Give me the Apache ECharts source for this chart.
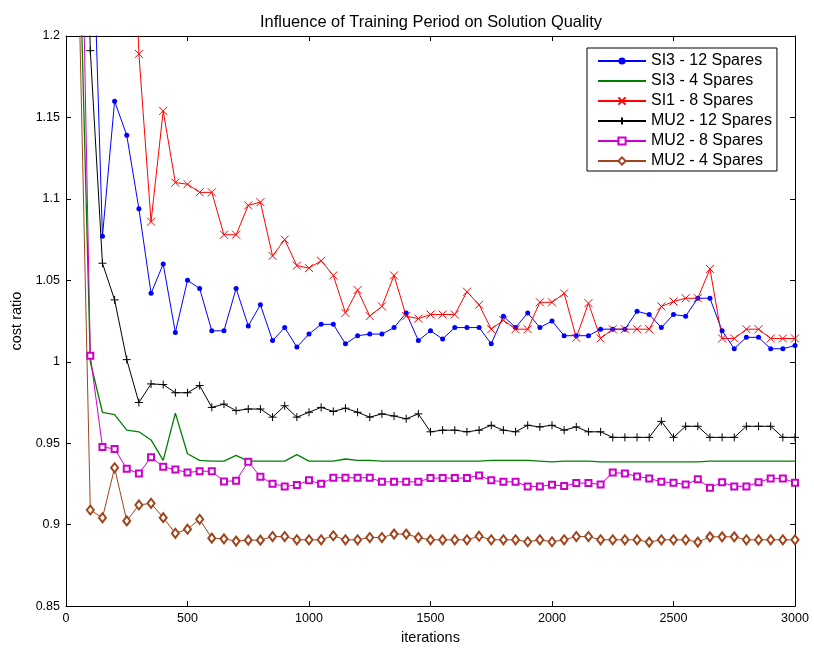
<!DOCTYPE html>
<html>
<head>
<meta charset="utf-8">
<script src="https://cdn.jsdelivr.net/npm/echarts@6/dist/echarts.min.js"></script>
<style>
html,body{margin:0;padding:0;background:#fff;}
#chart{width:814px;height:650px;}
</style>
</head>
<body>
<div id="chart"></div>
<script>
const iterations = [0,50,100,150,200,250,300,350,400,450,500,550,600,650,700,750,800,850,900,950,1000,1050,1100,1150,1200,1250,1300,1350,1400,1450,1500,1550,1600,1650,1700,1750,1800,1850,1900,1950,2000,2050,2100,2150,2200,2250,2300,2350,2400,2450,2500,2550,2600,2650,2700,2750,2800,2850,2900,2950,3000];

const si3_12 = [1.6,1.45,1.32,1.077,1.160,1.139,1.094,1.042,1.060,1.018,1.050,1.045,1.019,1.019,1.045,1.022,1.035,1.013,1.021,1.009,1.017,1.023,1.023,1.011,1.016,1.017,1.017,1.021,1.030,1.013,1.019,1.014,1.021,1.021,1.021,1.011,1.028,1.021,1.030,1.021,1.025,1.016,1.016,1.016,1.020,1.020,1.020,1.031,1.029,1.021,1.029,1.028,1.039,1.039,1.019,1.008,1.015,1.015,1.008,1.008,1.010];

const si3_4 = [1.6,1.29,1.0,0.969,0.9675,0.958,0.957,0.952,0.9395,0.9685,0.9435,0.9395,0.939,0.939,0.9425,0.939,0.939,0.939,0.939,0.943,0.939,0.939,0.939,0.9403,0.9395,0.9395,0.939,0.939,0.939,0.939,0.939,0.939,0.939,0.939,0.939,0.9395,0.9395,0.9395,0.9395,0.939,0.9385,0.939,0.939,0.939,0.9385,0.9385,0.9385,0.9385,0.9385,0.9385,0.9385,0.9385,0.9385,0.939,0.939,0.939,0.939,0.939,0.939,0.939,0.939];

const si1_8 = [1.6,1.55,1.5,1.46,1.42,1.38,1.189,1.086,1.154,1.110,1.109,1.104,1.104,1.078,1.078,1.096,1.098,1.065,1.075,1.059,1.0575,1.062,1.053,1.030,1.044,1.028,1.034,1.053,1.028,1.0265,1.029,1.029,1.029,1.043,1.035,1.020,1.0255,1.020,1.020,1.0365,1.0365,1.042,1.0147,1.036,1.0143,1.020,1.020,1.020,1.020,1.034,1.037,1.039,1.039,1.057,1.0143,1.0143,1.020,1.020,1.0143,1.0143,1.0143];

const mu2_12 = [1.7,1.5,1.191,1.0605,1.038,1.0013,0.975,0.9864,0.986,0.981,0.981,0.9854,0.972,0.974,0.970,0.971,0.971,0.966,0.973,0.966,0.969,0.972,0.9695,0.9715,0.969,0.966,0.968,0.9667,0.965,0.968,0.957,0.958,0.958,0.957,0.958,0.961,0.958,0.957,0.961,0.960,0.961,0.958,0.960,0.957,0.957,0.9536,0.9536,0.9536,0.9536,0.9634,0.9536,0.9604,0.9604,0.9536,0.9536,0.9536,0.9604,0.9604,0.9604,0.9536,0.9536];

const mu2_8 = [1.7,1.40,1.0037,0.9477,0.9465,0.9343,0.9314,0.9414,0.9355,0.9338,0.932,0.9328,0.9328,0.9265,0.927,0.9386,0.9294,0.9251,0.9235,0.9243,0.9272,0.9251,0.9288,0.9288,0.9288,0.9288,0.9263,0.9263,0.9263,0.9263,0.9286,0.9286,0.9286,0.9286,0.9302,0.9272,0.9263,0.9263,0.9235,0.9235,0.9245,0.9237,0.9255,0.9255,0.9247,0.932,0.9314,0.9296,0.9284,0.9263,0.9257,0.9247,0.9278,0.9227,0.926,0.9235,0.9235,0.926,0.9284,0.9284,0.9257];

const mu2_4 = [1.7,1.25,0.909,0.9042,0.9349,0.9023,0.9121,0.9131,0.9043,0.8947,0.8972,0.9033,0.8917,0.8913,0.8899,0.8905,0.8905,0.8927,0.8927,0.8907,0.8907,0.8907,0.8932,0.8907,0.8907,0.8921,0.8921,0.8942,0.8942,0.8921,0.8907,0.8907,0.8907,0.8907,0.8929,0.8907,0.8907,0.8907,0.8895,0.8907,0.8895,0.8907,0.8927,0.8927,0.8907,0.8907,0.8907,0.8907,0.8893,0.8907,0.8907,0.8907,0.8893,0.8925,0.8925,0.8925,0.8907,0.8907,0.8907,0.8907,0.8907];

const seriesNames = ['SI3 - 12 Spares','SI3 - 4 Spares','SI1 - 8 Spares','MU2 - 12 Spares','MU2 - 8 Spares','MU2 - 4 Spares'];
const yTicks = [0.85, 0.9, 0.95, 1, 1.05, 1.1, 1.15, 1.2];
const xTicks = [0, 500, 1000, 1500, 2000, 2500, 3000];

const FONT = "'Liberation Sans', Arial, Helvetica, sans-serif";
const pair = arr => iterations.map((x, i) => [x, arr[i]]);

const baseLine = (name, data, color, extra) => Object.assign({
  name: name,
  type: 'line',
  data: pair(data),
  clip: true,
  animation: false,
  lineStyle: { color: color, width: 1 },
  emphasis: { disabled: true }
}, extra);

const series = [
  baseLine(seriesNames[0], si3_12, '#0000ff', {
    symbol: 'circle', symbolSize: 5, itemStyle: { color: '#0000ff' }
  }),
  baseLine(seriesNames[1], si3_4, '#008000', {
    symbol: 'none', showSymbol: false, itemStyle: { color: '#008000' }, lineStyle: { color: '#008000', width: 1.3 }
  }),
  baseLine(seriesNames[2], si1_8, '#ff0000', {
    symbol: 'path://M0,0L10,10M10,0L0,10', symbolSize: 8, symbolKeepAspect: true,
    itemStyle: { color: 'rgba(0,0,0,0)', borderColor: '#ff0000', borderWidth: 1 }
  }),
  baseLine(seriesNames[3], mu2_12, '#000000', {
    symbol: 'path://M5,0L5,10M0,5L10,5', symbolSize: 8, symbolKeepAspect: true,
    itemStyle: { color: 'rgba(0,0,0,0)', borderColor: '#000000', borderWidth: 1 }
  }),
  baseLine(seriesNames[4], mu2_8, '#cc00cc', {
    symbol: 'emptyRect', symbolSize: 6, itemStyle: { color: '#cc00cc', borderWidth: 1 }
  }),
  baseLine(seriesNames[5], mu2_4, '#a0441c', {
    symbol: 'emptyDiamond', symbolSize: [7, 9], itemStyle: { color: '#a0441c', borderWidth: 1 }
  })
];

const legendData = seriesNames.map((n, i) => i === 1 ? { name: n, itemStyle: { opacity: 0 } } : { name: n });

const axisCommon = {
  axisLine: { show: true, onZero: false, lineStyle: { color: '#000', width: 1 } },
  axisTick: { show: true, inside: true, length: 5, lineStyle: { color: '#000' } },
  splitLine: { show: false }
};

const chart = echarts.init(document.getElementById('chart'), null, { renderer: 'canvas' });
chart.setOption({
  backgroundColor: '#fff',
  animation: false,
  textStyle: { fontFamily: FONT },
  title: {
    text: 'Influence of Training Period on Solution Quality',
    left: 426, top: 9, textAlign: 'center',
    textStyle: { fontSize: 16.4, fontWeight: 'normal', color: '#000', fontFamily: FONT }
  },
  grid: { left: 66, right: 19, top: 36, bottom: 41, containLabel: false },
  legend: {
    orient: 'vertical',
    left: 587, top: 48,
    data: legendData,
    itemWidth: 48, itemHeight: 9, itemGap: 4,
    padding: [5, 5, 2, 10],
    borderColor: '#000', borderWidth: 1,
    backgroundColor: '#fff',
    textStyle: { fontSize: 16, lineHeight: 16, color: '#000', fontFamily: FONT },
    selectedMode: false
  },
  xAxis: [
    Object.assign({
      type: 'value', min: xTicks[0], max: xTicks[xTicks.length - 1], interval: 500,
      position: 'bottom',
      name: 'iterations', nameLocation: 'middle', nameGap: 23,
      nameTextStyle: { fontSize: 14.5, color: '#000', fontFamily: FONT },
      axisLabel: { fontSize: 12.5, color: '#000', margin: 6, fontFamily: FONT,
        formatter: v => String(v) }
    }, axisCommon),
    Object.assign({
      type: 'value', min: xTicks[0], max: xTicks[xTicks.length - 1], interval: 500,
      position: 'top', axisLabel: { show: false }
    }, axisCommon)
  ],
  yAxis: [
    Object.assign({
      type: 'value', min: yTicks[0], max: yTicks[yTicks.length - 1], interval: 0.05,
      position: 'left',
      name: 'cost ratio', nameLocation: 'middle', nameGap: 41, nameRotate: 90,
      nameTextStyle: { fontSize: 14.5, color: '#000', fontFamily: FONT },
      axisLabel: { fontSize: 12.5, color: '#000', margin: 6, fontFamily: FONT,
        formatter: v => String(parseFloat(v.toFixed(4))) }
    }, axisCommon),
    Object.assign({
      type: 'value', min: yTicks[0], max: yTicks[yTicks.length - 1], interval: 0.05,
      position: 'right', axisLabel: { show: false }
    }, axisCommon)
  ],
  series: series
});
</script>
</body>
</html>
